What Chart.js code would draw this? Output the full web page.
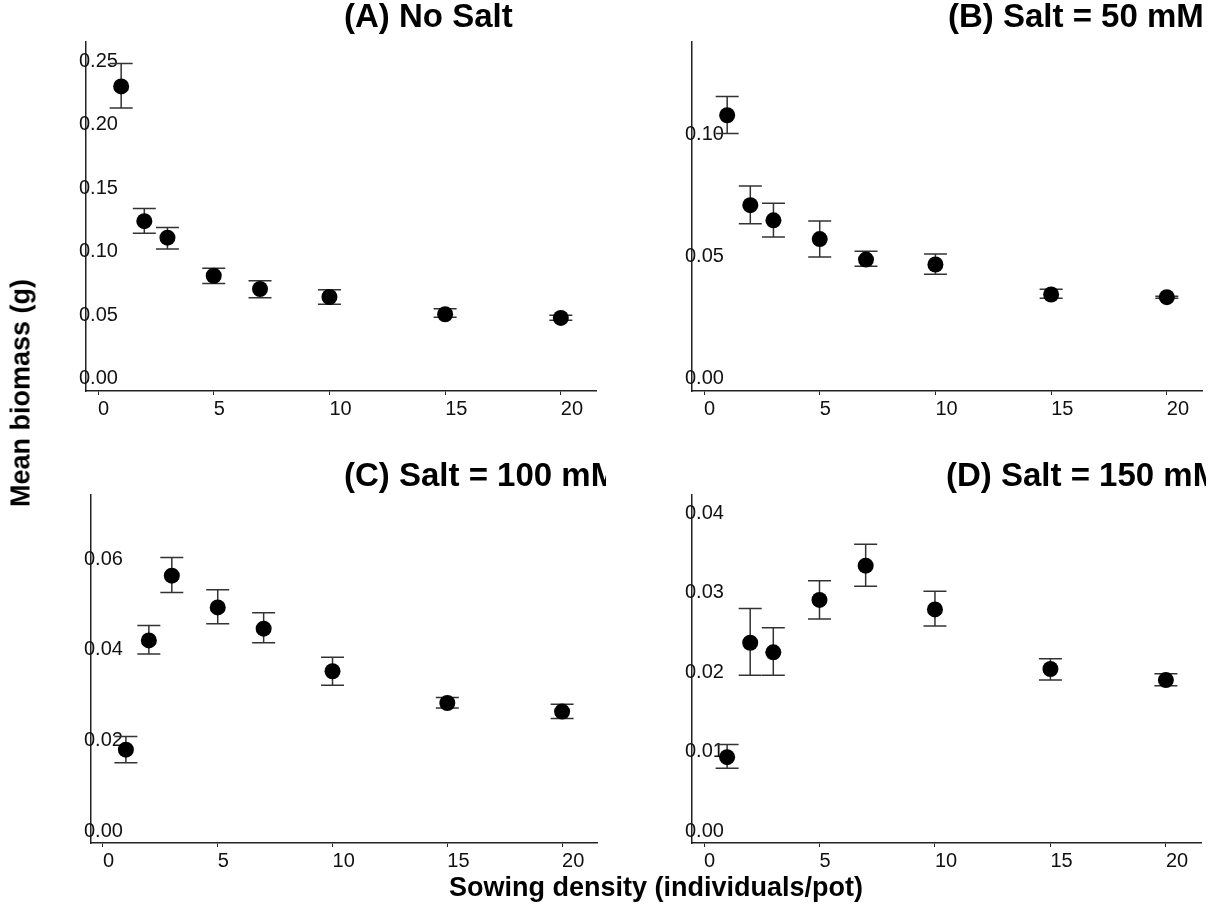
<!DOCTYPE html>
<html>
<head>
<meta charset="utf-8">
<script src="https://cdn.jsdelivr.net/npm/chart.js@4.4.1/dist/chart.umd.min.js"></script>
<style>
  body { margin: 0; background: #fff; width: 1223px; height: 907px; position: relative; overflow: hidden; }
  canvas { position: absolute; }
  .axis-label { position: absolute; font: bold 27px "Liberation Sans", Arial, sans-serif; color: #000; white-space: nowrap; }
  #ylab { left: 21px; top: 393px; transform: translate(-50%, -50%) rotate(-90deg); }
  #xlab { left: 656px; top: 887px; transform: translate(-50%, -50%); }
</style>
</head>
<body>
<canvas id="panel-a" width="606" height="440" style="left:0;top:0"></canvas>
<canvas id="panel-b" width="606" height="440" style="left:606px;top:0"></canvas>
<canvas id="panel-c" width="606" height="440" style="left:0;top:450px"></canvas>
<canvas id="panel-d" width="606" height="440" style="left:606px;top:450px"></canvas>
<div class="axis-label" id="ylab">Mean biomass (g)</div>
<div class="axis-label" id="xlab">Sowing density (individuals/pot)</div>
<script>
// sowing density (x) and tick values
const density = [1, 2, 3, 5, 7, 10, 15, 20];
const xTicks = [0, 5, 10, 15, 20];

// (A) no salt
const meanA  = [0.230, 0.124, 0.111, 0.081, 0.0706, 0.0643, 0.0507, 0.0478];
const upperA = [0.248, 0.134, 0.119, 0.087, 0.077, 0.070, 0.055, 0.050];
const lowerA = [0.213, 0.1145, 0.102, 0.075, 0.0636, 0.0586, 0.0483, 0.046];
const yTicksA = [0, 0.05, 0.10, 0.15, 0.20, 0.25];

// (B) salt = 50 mM
const meanB  = [0.1078, 0.071, 0.0648, 0.0571, 0.0487, 0.0467, 0.0344, 0.0333];
const upperB = [0.1155, 0.0788, 0.0718, 0.0645, 0.0521, 0.051, 0.0366, 0.0337];
const lowerB = [0.1003, 0.0634, 0.058, 0.0498, 0.046, 0.0427, 0.0329, 0.0329];
const yTicksB = [0, 0.05, 0.10];

// (C) salt = 100 mM
const meanC  = [0.0180, 0.0421, 0.0564, 0.0494, 0.0447, 0.0353, 0.0283, 0.0264];
const upperC = [0.0209, 0.0454, 0.0604, 0.0533, 0.0482, 0.0384, 0.0295, 0.028];
const lowerC = [0.0151, 0.0391, 0.0527, 0.0458, 0.0416, 0.0322, 0.0272, 0.0249];
const yTicksC = [0, 0.02, 0.04, 0.06];

// (D) salt = 150 mM
const meanD  = [0.0093, 0.0237, 0.0225, 0.0291, 0.0334, 0.0279, 0.0204, 0.0190];
const upperD = [0.0109, 0.028, 0.0256, 0.0315, 0.0361, 0.0302, 0.0217, 0.0198];
const lowerD = [0.0079, 0.0196, 0.0196, 0.0267, 0.0308, 0.0258, 0.019, 0.0183];
const yTicksD = [0, 0.01, 0.02, 0.03, 0.04];

Chart.defaults.font.family = '"Liberation Sans", Arial, sans-serif';
Chart.defaults.animation = false;

// vertical error bars with caps, under the points
const errorBars = {
  id: 'errorBars',
  beforeDatasetsDraw(chart) {
    const ctx = chart.ctx, xs = chart.scales.x, ys = chart.scales.y;
    chart.data.datasets.forEach(ds => {
      ctx.save();
      ctx.strokeStyle = '#333';
      ctx.lineWidth = 1.5;
      ds.data.forEach((p, i) => {
        const x = xs.getPixelForValue(p.x);
        const top = ys.getPixelForValue(ds.upper[i]);
        const bot = ys.getPixelForValue(ds.lower[i]);
        ctx.beginPath();
        ctx.moveTo(x, top); ctx.lineTo(x, bot);
        ctx.moveTo(x - 11.5, top); ctx.lineTo(x + 11.5, top);
        ctx.moveTo(x - 11.5, bot); ctx.lineTo(x + 11.5, bot);
        ctx.stroke();
      });
      ctx.restore();
    });
  }
};

// panel title, left aligned and cut off on the right like the original
const panelTitle = {
  id: 'panelTitle',
  afterDraw(chart, args, opts) {
    const ctx = chart.ctx;
    ctx.save();
    ctx.beginPath();
    ctx.rect(0, 0, opts.clipRight, chart.height);
    ctx.clip();
    ctx.font = 'bold 33px "Liberation Sans", Arial, sans-serif';
    ctx.fillStyle = '#000';
    ctx.textAlign = 'left';
    ctx.textBaseline = 'middle';
    ctx.fillText(opts.text, opts.x, opts.y);
    ctx.restore();
  }
};

function makePanel(id, title, tx, ty, clipRight, mean, upper, lower, yMin, yMax, yTicks, pad) {
  const ctx = document.getElementById(id).getContext('2d');
  return new Chart(ctx, {
    type: 'scatter',
    data: {
      datasets: [{
        data: density.map((d, i) => ({x: d, y: mean[i]})),
        upper: upper,
        lower: lower,
        pointRadius: 8,
        pointHoverRadius: 8,
        backgroundColor: '#000',
        borderColor: '#000',
        borderWidth: 0
      }]
    },
    options: {
      responsive: false,
      devicePixelRatio: 1,
      layout: { padding: pad },
      plugins: {
        legend: { display: false },
        tooltip: { enabled: false },
        panelTitle: { text: title, x: tx, y: ty, clipRight: clipRight }
      },
      scales: {
        x: {
          type: 'linear',
          min: -0.52,
          max: 21.52,
          afterBuildTicks: s => { s.ticks = xTicks.map(v => ({value: v})); },
          afterFit: s => { s.height = 40; },
          grid: { display: true, drawOnChartArea: false, drawTicks: true, tickLength: 4, color: '#222' },
          border: { display: true, color: '#222', width: 1.5 },
          ticks: { align: 'start', padding: 2, maxRotation: 0, autoSkip: false, color: '#111', font: { size: 20 } }
        },
        y: {
          min: yMin,
          max: yMax,
          afterBuildTicks: s => { s.ticks = yTicks.map(v => ({value: v})); },
          afterFit: s => { s.width = 0; },
          grid: { display: false },
          border: { display: true, color: '#222', width: 1.5 },
          ticks: { mirror: true, padding: -7, color: '#111', font: { size: 20 },
                   callback: v => v.toFixed(2) }
        }
      }
    },
    plugins: [errorBars, panelTitle]
  });
}

makePanel('panel-a', '(A) No Salt', 344, 18, 606, meanA, upperA, lowerA, -0.0097, 0.265, yTicksA,
  {left: 86, right: 10, top: 42, bottom: 9});
makePanel('panel-b', '(B) Salt = 50 mM', 342, 18, 606, meanB, upperB, lowerB, -0.0051, 0.1378, yTicksB,
  {left: 86, right: 10, top: 42, bottom: 9});
makePanel('panel-c', '(C) Salt = 100 mM', 344, 27, 606, meanC, upperC, lowerC, -0.0026, 0.0742, yTicksC,
  {left: 91, right: 9, top: 45, bottom: 7});
makePanel('panel-d', '(D) Salt = 150 mM', 340, 27, 600, meanD, upperD, lowerD, -0.0015, 0.0423, yTicksD,
  {left: 86, right: 11, top: 45, bottom: 7});
</script>
</body>
</html>
